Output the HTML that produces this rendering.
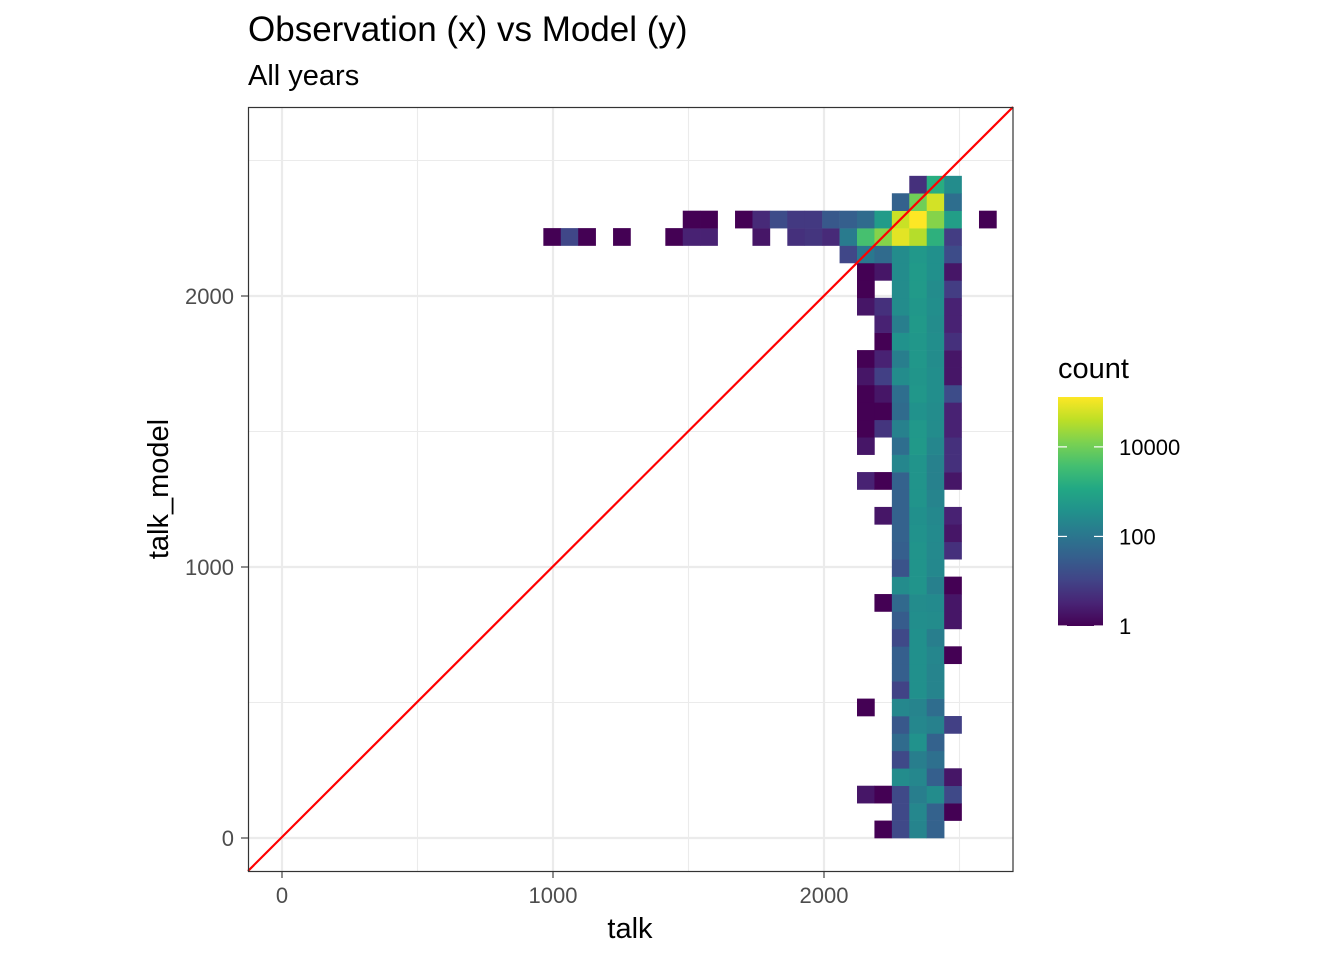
<!DOCTYPE html>
<html><head><meta charset="utf-8">
<style>
html,body{margin:0;padding:0;background:#fff;}
svg{display:block;font-family:"Liberation Sans",sans-serif;}
</style></head>
<body>
<svg id="chart" width="1344" height="960" viewBox="0 0 1344 960">
  <text x="248" y="41" font-size="35" fill="#000">Observation (x) vs Model (y)</text>
  <text x="248" y="85" font-size="29" fill="#000">All years</text>
  <g id="grid"></g>
  <g id="cells"></g>
  <g id="overlay"></g>
  <rect x="248.5" y="107.5" width="764.5" height="764" fill="none" stroke="#333" stroke-width="1.2"/>
  <g id="axes"></g>
  <text x="630" y="938" font-size="29" text-anchor="middle" fill="#000">talk</text>
  <text transform="translate(168,489) rotate(-90)" font-size="29" text-anchor="middle" fill="#000">talk_model</text>
  <g id="legend"></g>
</svg>
<script>
// ---- data ----
const binWidth = 64.3;
const xOrigin = 964.4;
const yOrigin = 0;
const xTicks = [0, 1000, 2000];
const yTicks = [0, 1000, 2000];
const xTickLabels = ["0", "1000", "2000"];
const yTickLabels = ["0", "1000", "2000"];
const legendTicks = [1, 100, 10000];
const legendTickLabels = ["1", "100", "10000"];
const countMax = 130000;
// rows (from bottom, index 0) of [column index, count]
const rowCells = [
 [[19,1],[20,13],[21,200],[22,40]],
 [[20,13],[21,220],[22,40],[23,1]],
 [[18,2],[19,1],[20,13],[21,150],[22,280],[23,13]],
 [[20,280],[21,220],[22,35],[23,2]],
 [[20,13],[21,150],[22,75]],
 [[20,60],[21,380],[22,40]],
 [[20,25],[21,220],[22,170],[23,9]],
 [[18,1],[20,220],[21,200],[22,65]],
 [[20,10],[21,350],[22,200]],
 [[20,35],[21,350],[22,200]],
 [[20,35],[21,350],[22,210],[23,1]],
 [[20,13],[21,350],[22,150]],
 [[20,30],[21,320],[22,280],[23,2]],
 [[19,1],[20,55],[21,280],[22,260],[23,2]],
 [[20,280],[21,430],[22,160],[23,1]],
 [[20,20],[21,420],[22,240]],
 [[20,35],[21,420],[22,250],[23,5]],
 [[20,40],[21,380],[22,260],[23,2]],
 [[19,2],[20,40],[21,350],[22,240],[23,3]],
 [[20,40],[21,420],[22,200]],
 [[18,3],[19,1],[20,40],[21,420],[22,170],[23,2]],
 [[20,210],[21,420],[22,170],[23,5]],
 [[18,2],[20,70],[21,550],[22,210],[23,5]],
 [[18,1],[19,6],[20,170],[21,520],[22,280],[23,3]],
 [[18,1],[19,1],[20,60],[21,380],[22,280],[23,3]],
 [[18,1],[19,2],[20,70],[21,500],[22,320],[23,15]],
 [[18,2],[19,9],[20,280],[21,450],[22,320],[23,2]],
 [[18,1],[19,3],[20,150],[21,500],[22,280],[23,2]],
 [[19,1],[20,380],[21,500],[22,320],[23,5]],
 [[19,3],[20,150],[21,550],[22,280],[23,3]],
 [[18,2],[19,5],[20,280],[21,500],[22,320],[23,3]],
 [[18,1],[20,280],[21,580],[22,280],[23,8]],
 [[18,1],[19,2],[20,280],[21,580],[22,350],[23,2]],
 [[17,12],[18,110],[19,60],[20,280],[21,520],[22,350],[23,15]],
 [[0,1],[1,12],[2,1],[4,1],[7,1],[8,3],[9,3],[12,2],[14,5],[15,6],[16,4],[17,130],[18,4000],[19,15000],[20,80000],[21,35000],[22,1800],[23,8]],
 [[8,1],[9,1],[11,1],[12,4],[13,15],[14,7],[15,7],[16,25],[17,35],[18,60],[19,600],[20,50000],[21,130000],[22,15000],[23,700],[25,1]],
 [[20,40],[21,10000],[22,60000],[23,70]],
 [[21,5],[22,1500],[23,280]]
];

// ---- scales ----
const NS = "http://www.w3.org/2000/svg";
const pxPer = 0.271;
function xs(v){ return 282 + v*pxPer; }
function ys(v){ return 838 - v*pxPer; }
const viridis = ["#440154","#482475","#414487","#355f8d","#2a788e","#21918c","#22a884","#44bf70","#7ad151","#bddf26","#fde725"];
function hexToRgb(h){return [parseInt(h.slice(1,3),16),parseInt(h.slice(3,5),16),parseInt(h.slice(5,7),16)];}
function colorAt(t){
  t=Math.max(0,Math.min(1,t));
  const p=t*(viridis.length-1), i=Math.min(Math.floor(p),viridis.length-2), f=p-i;
  const a=hexToRgb(viridis[i]), b=hexToRgb(viridis[i+1]);
  return "rgb("+a.map((v,k)=>Math.round(v+(b[k]-v)*f)).join(",")+")";
}
function colorFor(c){ return colorAt(Math.log10(c)/Math.log10(countMax)); }
function mk(tag, attrs, parent){ const e=document.createElementNS(NS,tag); for(const k in attrs) e.setAttribute(k,attrs[k]); parent.appendChild(e); return e; }

// grid
const grid=document.getElementById("grid");
[500,1500,2500].forEach(v=>{
  let l=mk("line",{x1:xs(v),x2:xs(v),y1:107,y2:871,stroke:"#ebebeb","stroke-width":1.1},grid);
  
  
  l=mk("line",{x1:248,x2:1013,y1:ys(v),y2:ys(v),stroke:"#ebebeb","stroke-width":1.1},grid);
  
  
});
xTicks.forEach(v=>{
  const l=mk("line",{x1:xs(v),x2:xs(v),y1:107,y2:871,stroke:"#ebebeb","stroke-width":2.2},grid);
  
  
});
yTicks.forEach(v=>{
  const l=mk("line",{x1:248,x2:1013,y1:ys(v),y2:ys(v),stroke:"#ebebeb","stroke-width":2.2},grid);
  
  
});

// cells
const cells=document.getElementById("cells");
const cw=binWidth*pxPer;
rowCells.forEach((row,r)=>{
  row.forEach(([col,count])=>{
    const x0=xOrigin+col*binWidth, y1=yOrigin+(r+1)*binWidth;
    const rc=mk("rect",{x:xs(x0),y:ys(y1),width:cw+0.3,height:cw+0.3,fill:colorFor(count)},cells);
    
    
  });
});

// identity line
const ov=document.getElementById("overlay");
const dl=mk("line",{x1:248,y1:871,x2:1013,y2:107,stroke:"#ff0000","stroke-width":2.2},ov);



// axes
const ax=document.getElementById("axes");
xTicks.forEach((v,i)=>{
  const t=mk("line",{x1:xs(v),x2:xs(v),y1:871,y2:878,stroke:"#333","stroke-width":1.1},ax);
  
  
  const tx=mk("text",{x:xs(v),y:903,"font-size":22,"text-anchor":"middle",fill:"#4d4d4d"},ax);
  tx.textContent=xTickLabels[i];
  
  
});
yTicks.forEach((v,i)=>{
  const t=mk("line",{x1:241,x2:248,y1:ys(v),y2:ys(v),stroke:"#333","stroke-width":1.1},ax);
  
  
  const tx=mk("text",{x:234,y:ys(v)+8,"font-size":22,"text-anchor":"end",fill:"#4d4d4d"},ax);
  tx.textContent=yTickLabels[i];
  
  
});

// legend
const lg=document.getElementById("legend");
const lt=mk("text",{x:1058,y:378,"font-size":29,fill:"#000"},lg);
lt.textContent="count";


const lb=626, ltop=397, lh=lb-ltop;
function ls(c){ return lb - Math.log10(c)/Math.log10(countMax)*lh; }
const defs=mk("defs",{},lg);
const gr=mk("linearGradient",{id:"vir",x1:0,y1:1,x2:0,y2:0},defs);
viridis.forEach((c,i)=>mk("stop",{offset:(i/(viridis.length-1)),"stop-color":c},gr));
const bar=mk("rect",{x:1058,y:ltop,width:45,height:lh,fill:"url(#vir)"},lg);


legendTicks.forEach((v,i)=>{
  const y=ls(v);
  let l=mk("line",{x1:1058,x2:1067,y1:y,y2:y,stroke:"#fff","stroke-width":1.2},lg);
  
  
  l=mk("line",{x1:1094,x2:1103,y1:y,y2:y,stroke:"#fff","stroke-width":1.2},lg);
  
  
  const tx=mk("text",{x:1119,y:y+8,"font-size":22,fill:"#000"},lg);
  tx.textContent=legendTickLabels[i];
  
  
});
</script>
</body></html>
